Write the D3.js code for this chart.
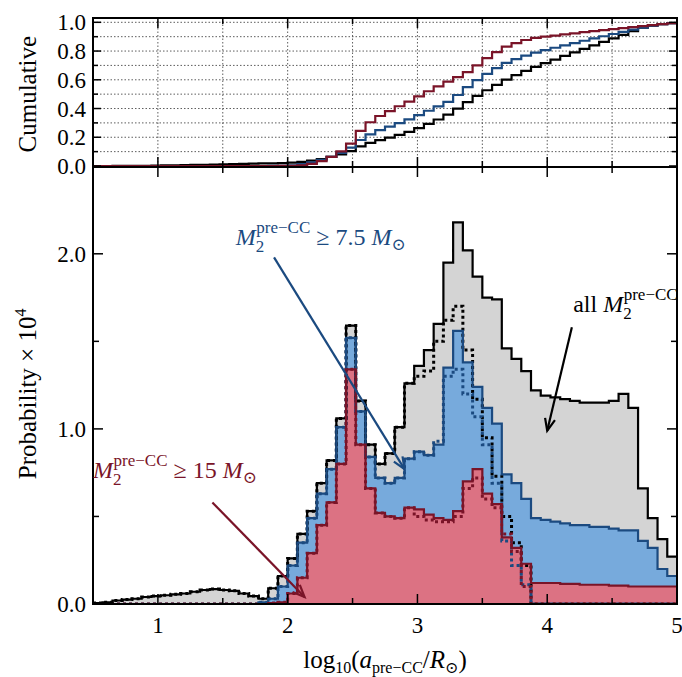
<!DOCTYPE html>
<html>
<head>
<meta charset="utf-8">
<script src="https://cdn.jsdelivr.net/npm/d3@7"></script>
<style>
  body { margin: 0; background: #fff; }
  text { font-family: "Liberation Serif", "DejaVu Serif", serif; }
</style>
</head>
<body>
<svg id="chart" width="682" height="677"></svg>
<script>
// bins of log10(a) from 0.5 to 5.0, width 0.075
const binStart = 0.5, binWidth = 0.075, nBins = 60;

// all M2 (solid black)
const allSolid = [0.005,0.01,0.02,0.025,0.03,0.04,0.045,0.05,0.055,0.06,
  0.07,0.08,0.085,0.08,0.075,0.06,0.045,0.03,0.09,0.16,
  0.26,0.40,0.53,0.69,0.82,1.06,1.59,1.16,0.91,0.80,
  0.86,1.01,1.26,1.36,1.45,1.60,1.95,2.18,2.02,1.87,
  1.75,1.74,1.46,1.40,1.33,1.22,1.19,1.18,1.17,1.16,
  1.15,1.15,1.15,1.16,1.20,1.12,0.66,0.49,0.37,0.27];
// M2 >= 7.5 (solid blue)
const blueSolid = [0,0,0,0,0,0,0,0,0,0,
  0,0,0,0,0,0,0,0.01,0.03,0.10,
  0.22,0.35,0.49,0.63,0.77,1.01,1.52,1.10,0.84,0.72,
  0.69,0.72,0.83,0.87,0.85,0.91,1.35,1.56,1.38,1.24,
  1.12,1.03,0.74,0.69,0.60,0.49,0.48,0.47,0.46,0.45,
  0.45,0.44,0.44,0.43,0.42,0.42,0.36,0.32,0.20,0.16];
// M2 >= 15 (solid red)
const redSolid = [0,0,0,0,0,0,0,0,0,0,
  0,0,0,0,0,0,0,0,0.005,0.01,
  0.06,0.15,0.29,0.45,0.58,0.80,1.34,0.91,0.66,0.52,
  0.50,0.49,0.55,0.54,0.51,0.49,0.48,0.53,0.70,0.77,
  0.63,0.57,0.38,0.32,0.23,0.12,0.12,0.12,0.115,0.115,
  0.11,0.11,0.11,0.105,0.105,0.10,0.10,0.10,0.10,0.10];
// dotted variants differ only above log a ~ 2.9
const allDotTail = [1.26,1.30,1.33,1.50,1.62,1.70,1.45,1.17,0.95,0.73,0.50,0.35,0.22];
const blueDotTail = [0.83,0.87,0.85,0.93,1.30,1.34,1.20,1.07,0.91,0.69,0.36,0.22,0.11];
const redDotTail = [0.55,0.50,0.48,0.47,0.47,0.50,0.66,0.72,0.60,0.55,0.40,0.30,0.10];
const tailStart = 32;

const xTicks = [1, 2, 3, 4, 5];
const probTicks = [0.0, 1.0, 2.0];
const cumTicks = [0.0, 0.2, 0.4, 0.6, 0.8, 1.0];

function withTail(base, tail) {
  return base.map((v, i) => i < tailStart ? v : (i - tailStart < tail.length ? tail[i - tailStart] : 0));
}
const allDot = withTail(allSolid, allDotTail);
const blueDot = withTail(blueSolid, blueDotTail);
const redDot = withTail(redSolid, redDotTail);

const svg = d3.select("#chart");
const left = 93, right = 677;
const x = d3.scaleLinear().domain([0.5, 5]).range([left, right]);
const yP = d3.scaleLinear().domain([0, 2.49]).range([604, 168]);
const yC = d3.scaleLinear().domain([0, 1.03]).range([166, 18]);

const edges = d3.range(nBins + 1).map(k => binStart + k * binWidth);
function stepPts(vals) {
  return edges.map((e, k) => [e, k < nBins ? vals[k] : vals[nBins - 1]]);
}
const line = d3.line().x(d => x(d[0])).y(d => yP(d[1])).curve(d3.curveStepAfter);
const area = d3.area().x(d => x(d[0])).y0(yP(0)).y1(d => yP(d[1])).curve(d3.curveStepAfter);

svg.append("defs").append("clipPath").attr("id", "clipP")
  .append("rect").attr("x", left).attr("y", 168).attr("width", right - left).attr("height", 436);
svg.append("defs").append("clipPath").attr("id", "clipC")
  .append("rect").attr("x", left).attr("y", 14).attr("width", right - left).attr("height", 153);

const colors = { all: "#000", blue: "#1b4a80", red: "#7a1428" };
const fills = { all: "#d4d4d4", blue: "#77aadc", red: "#dc7283" };

const gP = svg.append("g").attr("clip-path", "url(#clipP)");
[[allSolid, fills.all], [blueSolid, fills.blue], [redSolid, fills.red]].forEach(([v, f]) => {
  gP.append("path").attr("d", area(stepPts(v))).attr("fill", f);
});
[[allDot, colors.all], [blueDot, colors.blue], [redDot, colors.red]].forEach(([v, c]) => {
  gP.append("path").attr("d", line(stepPts(v))).attr("fill", "none")
    .attr("stroke", c).attr("stroke-width", 3).attr("stroke-dasharray", "3,3");
});
[[allSolid, colors.all], [blueSolid, colors.blue], [redSolid, colors.red]].forEach(([v, c]) => {
  gP.append("path").attr("d", line(stepPts(v))).attr("fill", "none")
    .attr("stroke", c).attr("stroke-width", 2.2);
});

// cumulative panel
const gC = svg.append("g");
d3.range(0.1, 1.01, 0.1).forEach(t => {
  gC.append("line").attr("x1", left).attr("x2", right).attr("y1", yC(t)).attr("y2", yC(t))
    .attr("stroke", "#333").attr("stroke-width", 0.8).attr("stroke-dasharray", "1.5,2");
});
d3.range(1, 5, 0.5).forEach(t => {
  gC.append("line").attr("x1", x(t)).attr("x2", x(t)).attr("y1", yC(0)).attr("y2", yC(1.03))
    .attr("stroke", "#333").attr("stroke-width", 0.8).attr("stroke-dasharray", "1.5,2");
});
const lineC = d3.line().x(d => x(d[0])).y(d => yC(d[1])).curve(d3.curveStepAfter);
[[allSolid, colors.all], [blueSolid, colors.blue], [redSolid, colors.red]].forEach(([v, c]) => {
  const tot = d3.sum(v);
  let acc = 0;
  const pts = [[edges[0], 0]];
  v.forEach((val, k) => { acc += val; pts.push([edges[k + 1], acc / tot]); });
  gC.append("path").attr("clip-path", "url(#clipC)").attr("d", lineC(pts))
    .attr("fill", "none").attr("stroke", c).attr("stroke-width", 2.2);
});

// frames and axes
function frame(y0, y1) {
  svg.append("rect").attr("x", left).attr("y", y0).attr("width", right - left).attr("height", y1 - y0)
    .attr("fill", "none").attr("stroke", "#000").attr("stroke-width", 2);
}
frame(18, 167);
frame(167, 604);

const xMinor = d3.range(0.5, 5.01, 0.5);
function xTickMarks(yPos, dir, len) {
  xMinor.forEach(t => {
    const l = Number.isInteger(t) ? len : len * 0.6;
    svg.append("line").attr("x1", x(t)).attr("x2", x(t)).attr("y1", yPos).attr("y2", yPos + dir * l)
      .attr("stroke", "#000").attr("stroke-width", 1.5);
  });
}
xTickMarks(604, -1, 10); xTickMarks(167, 1, 10); xTickMarks(167, -1, 10); xTickMarks(18, 1, 10);

function yTickMarks(scale, vals, len) {
  vals.forEach(t => {
    [[left, 1], [right, -1]].forEach(([px, d]) => {
      svg.append("line").attr("x1", px).attr("x2", px + d * len).attr("y1", scale(t)).attr("y2", scale(t))
        .attr("stroke", "#000").attr("stroke-width", 1.5);
    });
  });
}
yTickMarks(yP, [0, 1, 2], 10);
yTickMarks(yP, [0.5, 1.5], 6);
yTickMarks(yC, cumTicks, 8);
yTickMarks(yC, [0.1, 0.3, 0.5, 0.7, 0.9], 5);

svg.selectAll(".xl").data(xTicks).join("text")
  .attr("x", d => x(d)).attr("y", 633).attr("text-anchor", "middle")
  .attr("font-size", 23).text(d => d);
svg.selectAll(".yp").data(probTicks).join("text")
  .attr("x", left - 7).attr("y", d => yP(d) + 8).attr("text-anchor", "end")
  .attr("font-size", 23).text(d => d.toFixed(1));
svg.selectAll(".yc").data(cumTicks).join("text")
  .attr("x", left - 7).attr("y", d => yC(d) + 8).attr("text-anchor", "end")
  .attr("font-size", 23).text(d => d.toFixed(1));

// axis titles
const xt = svg.append("text").attr("x", (left + right) / 2).attr("y", 668).attr("text-anchor", "middle").attr("font-size", 25);
xt.append("tspan").text("log");
xt.append("tspan").attr("font-size", 16).attr("dy", 5).text("10");
xt.append("tspan").attr("dy", -5).text("(");
xt.append("tspan").attr("font-style", "italic").text("a");
xt.append("tspan").attr("font-size", 16).attr("dy", 5).text("pre\u2212CC");
xt.append("tspan").attr("dy", -5).text("/");
xt.append("tspan").attr("font-style", "italic").text("R");
xt.append("tspan").attr("font-size", 16).attr("dy", 5).text("\u2299");
xt.append("tspan").attr("dy", -5).text(")");

const yt = svg.append("text").attr("transform", `translate(36,${yP(1.2)}) rotate(-90)`)
  .attr("text-anchor", "middle").attr("font-size", 25);
yt.append("tspan").text("Probability \u00d7 10");
yt.append("tspan").attr("font-size", 16).attr("dy", -10).text("4");

svg.append("text").attr("transform", `translate(36,${yC(0.5)}) rotate(-90)`)
  .attr("text-anchor", "middle").attr("font-size", 25).text("Cumulative");

// annotations
function massLabel(px, py, color, tail) {
  const t = svg.append("text").attr("x", px).attr("y", py).attr("fill", color).attr("font-size", 24);
  t.append("tspan").attr("font-style", "italic").text("M");
  t.append("tspan").attr("font-size", 17).attr("dy", 7).text("2");
  t.append("tspan").attr("font-size", 17).attr("dx", -8).attr("dy", -19).text("pre\u2212CC");
  t.append("tspan").attr("dy", 12).text(tail[0]);
  if (tail[1]) {
    t.append("tspan").attr("font-style", "italic").text("M");
    t.append("tspan").attr("font-size", 17).attr("dy", 5).text("\u2299");
  }
  return t;
}
massLabel(x(1.6), yP(2.05), colors.blue, [" \u2265 7.5 ", true]);
massLabel(x(0.5), yP(0.72), colors.red, [" \u2265 15 ", true]);
const allT = svg.append("text").attr("x", x(4.2)).attr("y", yP(1.67)).attr("font-size", 24);
allT.append("tspan").text("all ");
allT.append("tspan").attr("font-style", "italic").text("M");
allT.append("tspan").attr("font-size", 17).attr("dy", 7).text("2");
allT.append("tspan").attr("font-size", 17).attr("dx", -8).attr("dy", -19).text("pre\u2212CC");

function arrow(x0, y0, x1, y1, color) {
  const a = Math.atan2(yP(y1) - yP(y0), x(x1) - x(x0));
  const X = x(x1), Y = yP(y1), L = 13, w = 0.4;
  svg.append("line").attr("x1", x(x0)).attr("y1", yP(y0)).attr("x2", X).attr("y2", Y)
    .attr("stroke", color).attr("stroke-width", 2.2);
  svg.append("path").attr("d", `M${X - L * Math.cos(a - w)},${Y - L * Math.sin(a - w)} L${X},${Y} L${X - L * Math.cos(a + w)},${Y - L * Math.sin(a + w)}`)
    .attr("fill", "none").attr("stroke", color).attr("stroke-width", 2.2);
}
arrow(1.895, 1.98, 2.90, 0.77, colors.blue);
arrow(1.42, 0.58, 2.13, 0.04, colors.red);
arrow(4.19, 1.58, 4.0, 0.99, colors.all);
</script>
</body>
</html>
